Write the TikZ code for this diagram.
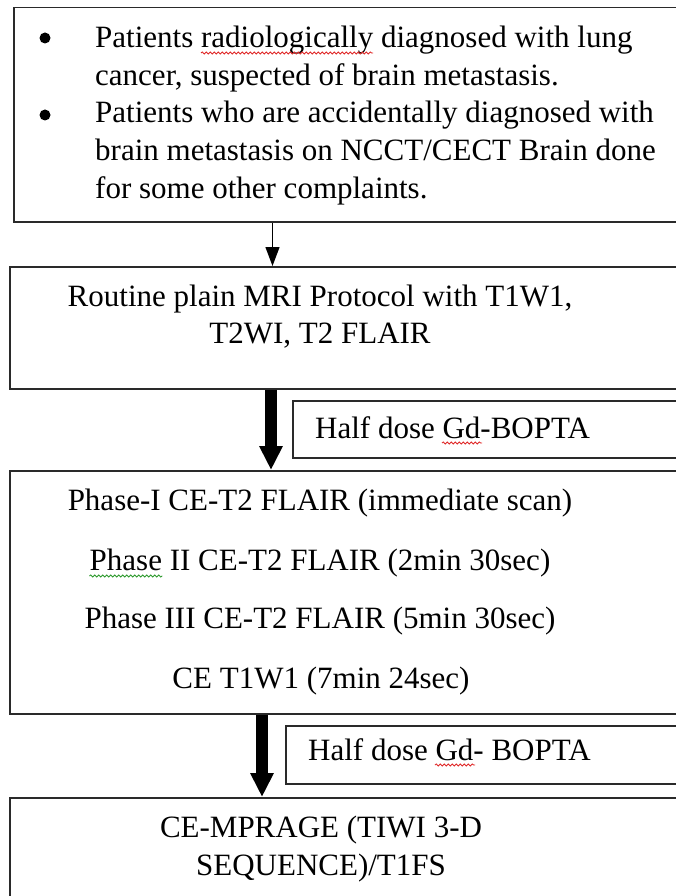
\documentclass[tikz,border=0pt]{standalone}
\usepackage{fontspec}
\setmainfont{Liberation Serif}
\usetikzlibrary{arrows.meta,calc,decorations.pathmorphing}
\definecolor{frame}{HTML}{2A2A2A}
\definecolor{spellred}{HTML}{E02828}
\definecolor{spellgreen}{HTML}{2E9A2E}
\tikzset{
  box/.style={draw=frame, line width=1.5pt, rectangle, inner sep=0pt, anchor=north west, minimum width=720pt},
  txt/.style={inner sep=0pt, text=black, font=\fontsize{31}{37.5}\selectfont},
  bulletdot/.style={circle, fill=black, inner sep=0pt, minimum size=11pt},
  thinarrow/.style={draw=black, line width=1.3pt, -{Triangle[length=19pt,width=14pt]}},
  thickarrow/.style={draw=black, line width=12pt, -{Triangle[length=24pt,width=22pt]}},
  squig/.style={decorate, decoration={snake, amplitude=1.1pt, segment length=4pt}, line width=0.8pt},
}
\begin{document}
\begin{tikzpicture}[x=1pt,y=-1pt]
\useasboundingbox (0,0) rectangle (676,896);
\clip (0,0) rectangle (676,896);
\fill[white] (0,0) rectangle (676,896);

% boxes
\node[box, minimum height=214pt] (b1) at (13,7) {};
\node[box, minimum height=122pt] (b2) at (9,266) {};
\node[box, minimum height=243pt] (b3) at (9,470) {};
\node[box, minimum height=150pt] (b4) at (9,797) {};
\node[box, minimum height=57pt] (lab1) at (292,400) {};
\node[box, minimum height=58pt] (lab2) at (285,725) {};

% box 1 text
\node[bulletdot] (bul1) at (45,38) {};
\node[bulletdot] (bul2) at (45,115) {};
\node[txt, anchor=base west] (t1) at (95,48) {Patients radiologically diagnosed with lung};
\node[txt, anchor=base west] (t2) at (95,86) {cancer, suspected of brain metastasis.};
\node[txt, anchor=base west] (t3) at (95,123) {Patients who are accidentally diagnosed with};
\node[txt, anchor=base west] (t4) at (95,161) {brain metastasis on NCCT/CECT Brain done};
\node[txt, anchor=base west] (t5) at (95,198) {for some other complaints.};
\draw[squig, spellred] ($(t1.base west)+(106,5)$) -- ++(172,0);

% box 2 text
\node[txt, anchor=base] (r1) at (320,306) {Routine plain MRI Protocol with T1W1,};
\node[txt, anchor=base] (r2) at (320,343) {T2WI, T2 FLAIR};

% label 1
\node[txt, anchor=base west] (h1) at (315,438) {Half dose Gd-BOPTA};
\draw[squig, spellred] ($(h1.base west)+(127,5)$) -- ++(40,0);

% box 3 text
\node[txt, anchor=base] (p1) at (320,510) {Phase-I CE-T2 FLAIR (immediate scan)};
\node[txt, anchor=base] (p2) at (320,570) {Phase II CE-T2 FLAIR (2min 30sec)};
\node[txt, anchor=base] (p3) at (320,628) {Phase III CE-T2 FLAIR (5min 30sec)};
\node[txt, anchor=base] (p4) at (321,688) {CE T1W1 (7min 24sec)};
\draw[squig, spellgreen] ($(p2.base west)+(0,6)$) -- ++(73,0);

% label 2
\node[txt, anchor=base west] (h2) at (308,760) {Half dose Gd- BOPTA};
\draw[squig, spellred] ($(h2.base west)+(127,5)$) -- ++(40,0);

% box 4 text
\node[txt, anchor=base] (m1) at (321,837) {CE-MPRAGE (TIWI 3-D};
\node[txt, anchor=base] (m2) at (321,875) {SEQUENCE)/T1FS};

% arrows
\coordinate (ax1) at (272.5,0);
\coordinate (ax2) at (271,0);
\coordinate (ax3) at (262,0);
\draw[thinarrow] (b1.south -| ax1) -- (b2.north -| ax1);
\draw[thickarrow] (b2.south -| ax2) -- (b3.north -| ax2);
\draw[thickarrow] (b3.south -| ax3) -- (b4.north -| ax3);
\end{tikzpicture}
\end{document}
